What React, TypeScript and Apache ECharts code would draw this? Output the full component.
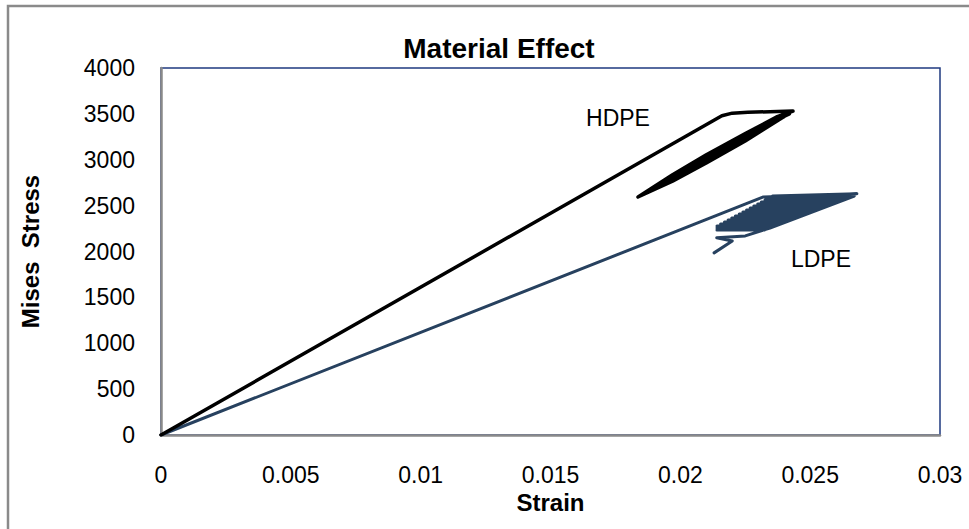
import React, { useEffect, useRef } from "react";
import * as echarts from "echarts";

const title = "Material Effect";
const xName = "Strain";
const yName = "Mises  Stress";
const xTickLabels = ["0", "0.005", "0.01", "0.015", "0.02", "0.025", "0.03"];
const yTickLabels = ["0", "500", "1000", "1500", "2000", "2500", "3000", "3500", "4000"];

const hdpeName = "HDPE";
const hdpeStrain = [
  0, 0.0216, 0.022, 0.0226, 0.02434, 0.0237,
  0.0225, 0.021, 0.0197, 0.01837,
  0.0197, 0.021, 0.0225, 0.0240,
  0.0225, 0.021, 0.0197, 0.0186,
  0.0197, 0.021, 0.0225, 0.0238,
  0.0225, 0.021, 0.0197, 0.0188,
  0.0197, 0.021, 0.0225, 0.0236, 0.0242,
];
const hdpeStress = [
  0, 3480, 3508, 3518, 3530, 3466,
  3285, 3054, 2837, 2594,
  2767, 2964, 3205, 3470,
  3265, 3031, 2820, 2625,
  2785, 2987, 3225, 3440,
  3245, 3009, 2802, 2650,
  2830, 3045, 3277, 3420, 3500,
];

const ldpeName = "LDPE";
// loading line, then the dense cyclic blob (traced back and forth), then the tail
const ldpeStrain = [
  0, 0.0232, 0.0268,
  0.02355, 0.0265, 0.02326, 0.02609, 0.02298, 0.02569, 0.02269, 0.02528, 0.02241,
  0.02487, 0.02212, 0.02447, 0.02184, 0.02406, 0.02155, 0.02366, 0.02141, 0.02325,
  0.02141, 0.02345, 0.02141, 0.02386, 0.0217, 0.02427, 0.02198, 0.02467, 0.02227,
  0.02508, 0.02255, 0.02548, 0.02283, 0.02589, 0.02312, 0.02629, 0.0234, 0.0267,
  0.02345, 0.0225, 0.0214, 0.022, 0.0213,
];
const ldpeStress = [
  0, 2595, 2630,
  2605, 2583, 2561, 2539, 2518, 2496, 2474, 2452, 2430,
  2409, 2387, 2365, 2343, 2321, 2300, 2278, 2256, 2234,
  2234, 2256, 2278, 2300, 2321, 2343, 2365, 2387, 2409,
  2430, 2452, 2474, 2496, 2518, 2539, 2561, 2583, 2605,
  2256, 2170, 2150, 2115, 1985,
];

const FONT = "Liberation Sans, Arial, sans-serif";

function toPairs(xs: number[], ys: number[]) {
  return xs.map((x, i) => [x, ys[i]]);
}

export default function App() {
  const ref = useRef<HTMLDivElement>(null);
  useEffect(() => {
    if (!ref.current) return;
    const chart = echarts.init(ref.current, null, { renderer: "svg" });
    chart.setOption({
      animation: false,
      backgroundColor: "#ffffff",
      title: {
        text: title,
        left: 494,
        top: 29,
        textAlign: "center",
        textStyle: { fontFamily: FONT, fontSize: 28, fontWeight: "bold", color: "#000" },
      },
      grid: { left: 161, right: 29, top: 68, bottom: 94, show: true, borderColor: "#1f3a80", borderWidth: 1.5 },
      xAxis: {
        type: "value",
        min: 0,
        max: 0.03,
        interval: 0.005,
        name: xName,
        nameLocation: "middle",
        nameGap: 55,
        nameTextStyle: { fontFamily: FONT, fontSize: 24, fontWeight: "bold", color: "#000" },
        axisLine: { show: true, lineStyle: { color: "#8a8a8a", width: 2.5 } },
        axisTick: { show: false },
        splitLine: { show: false },
        axisLabel: {
          margin: 28,
          fontFamily: FONT,
          fontSize: 23,
          color: "#000",
          formatter: (v: number) => xTickLabels[Math.round(v / 0.005)] ?? "",
        },
      },
      yAxis: {
        type: "value",
        min: 0,
        max: 4000,
        interval: 500,
        name: yName,
        nameLocation: "middle",
        nameGap: 119,
        nameTextStyle: { fontFamily: FONT, fontSize: 24, fontWeight: "bold", color: "#000" },
        axisLine: { show: true, lineStyle: { color: "#8a8a8a", width: 2.5 } },
        axisTick: { show: false },
        splitLine: { show: false },
        axisLabel: {
          margin: 26,
          fontFamily: FONT,
          fontSize: 23,
          color: "#000",
          formatter: (v: number) => yTickLabels[Math.round(v / 500)] ?? "",
        },
      },
      series: [
        {
          name: ldpeName,
          type: "line",
          data: toPairs(ldpeStrain, ldpeStress),
          showSymbol: false,
          lineStyle: { color: "#27415f", width: 3, join: "round", cap: "round" },
          z: 2,
        },
        {
          name: hdpeName,
          type: "line",
          data: toPairs(hdpeStrain, hdpeStress),
          showSymbol: false,
          lineStyle: { color: "#000000", width: 3.5, join: "round", cap: "round" },
          z: 3,
        },
      ],
      graphic: [
        {
          type: "rect",
          shape: { x: 8, y: 6, width: 1000, height: 560 },
          style: { fill: "none", stroke: "#8a8a8a", lineWidth: 2.5 },
          silent: true,
          z: 10,
        },
        {
          type: "text",
          x: 618,
          y: 118,
          style: { text: hdpeName, fontFamily: FONT, fontSize: 23, fill: "#000", align: "center", verticalAlign: "middle" },
        },
        {
          type: "text",
          x: 821,
          y: 259,
          style: { text: ldpeName, fontFamily: FONT, fontSize: 23, fill: "#000", align: "center", verticalAlign: "middle" },
        },
      ],
    });
    return () => chart.dispose();
  }, []);
  return (
    <div
      ref={ref}
      style={{ position: "fixed", left: 0, top: 0, width: 969, height: 529 }}
    />
  );
}
